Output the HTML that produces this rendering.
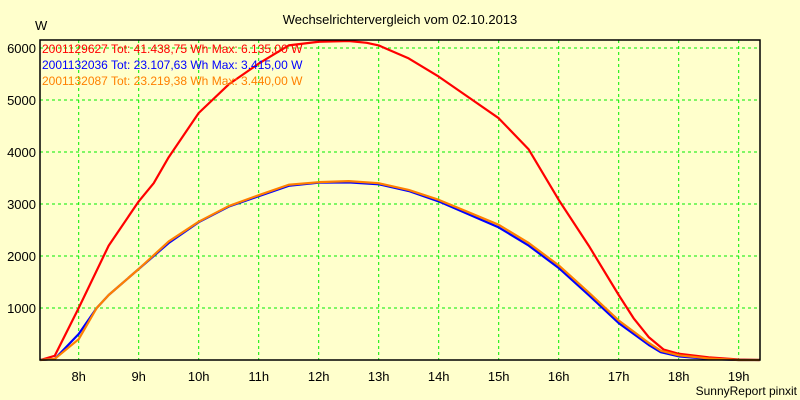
<!DOCTYPE html>
<html><head><meta charset="utf-8"><style>
body{margin:0;background:#ffffcc;}
svg{display:block;font-family:"Liberation Sans",sans-serif;}
</style></head><body>
<svg width="800" height="400">
<rect x="0" y="0" width="800" height="400" fill="#ffffcc"/>
<text x="400" y="24" font-size="13" text-anchor="middle">Wechselrichtervergleich vom 02.10.2013</text>
<text x="35" y="30" font-size="13">W</text>
<text x="797" y="395" font-size="12" text-anchor="end">SunnyReport pinxit</text>
<g id="grid"></g>
<g id="series"></g>
<g id="axes"></g>
<g id="legend" font-size="12">
<text x="42" y="53" fill="#ff0000">2001129627 Tot: 41.438,75 Wh Max: 6.135,00 W</text>
<text x="42" y="69" fill="#0000ff">2001132036 Tot: 23.107,63 Wh Max: 3.415,00 W</text>
<text x="42" y="85" fill="#ff8000">2001132087 Tot: 23.219,38 Wh Max: 3.440,00 W</text>
</g>
</svg>
<script>
const xTicks=[8,9,10,11,12,13,14,15,16,17,18,19];
const yTicks=[1000,2000,3000,4000,5000,6000];
const redT=[7.36,7.6,8.0,8.5,9.0,9.25,9.5,10,10.5,11,11.5,12,12.5,12.8,13,13.5,14,14.5,15,15.5,16,16.5,17,17.25,17.5,17.75,18,18.5,19,19.35];
const redV=[0,80,1000,2200,3050,3400,3900,4750,5300,5700,6050,6120,6135,6100,6050,5800,5450,5050,4650,4050,3080,2200,1250,800,440,200,120,50,10,0];
const blueT=[7.36,7.6,8.0,8.3,8.5,9.0,9.5,10,10.5,11,11.5,12,12.5,13,13.5,14,14.5,15,15.5,16,16.5,17,17.5,17.7,18,18.5,19,19.35];
const blueV=[0,20,500,1000,1250,1750,2250,2650,2950,3150,3350,3410,3415,3380,3250,3050,2800,2550,2200,1770,1250,710,290,150,70,20,0,0];
const orangeT=[7.36,7.6,8.0,8.3,8.5,9.0,9.5,10,10.5,11,11.5,12,12.5,13,13.5,14,14.5,15,15.5,16,16.5,17,17.5,17.7,18,18.5,19,19.35];
const orangeV=[0,20,400,1000,1250,1750,2280,2660,2960,3170,3370,3420,3440,3400,3270,3080,2840,2600,2250,1820,1300,760,330,180,90,30,0,0];
const X0=40,X1=760,Y0=360,Y1=40;
const xs=h=>78.7+(h-8)*60;
const ys=v=>360-v*0.052;
const NS='http://www.w3.org/2000/svg';
const mk=(t,a,p)=>{const e=document.createElementNS(NS,t);for(const k in a)e.setAttribute(k,a[k]);p.appendChild(e);return e;};
const grid=document.getElementById('grid'),axes=document.getElementById('axes'),ser=document.getElementById('series');
xTicks.forEach(h=>{
 const l=mk('line',{x1:xs(h),x2:xs(h),y1:Y1,y2:Y0,stroke:'#00ee00','stroke-dasharray':'3,3'},grid);
 
 
 const t=mk('text',{x:xs(h),y:381,'font-size':13,'text-anchor':'middle'},axes);
 t.textContent=h+'h';
 
 
});
yTicks.forEach(v=>{
 const l=mk('line',{x1:X0,x2:X1,y1:ys(v),y2:ys(v),stroke:'#00ee00','stroke-dasharray':'3,3'},grid);
 
 
 const t=mk('text',{x:36,y:ys(v)+5,'font-size':13,'text-anchor':'end'},axes);
 t.textContent=v;
 
 
});
const fr=mk('rect',{x:X0,y:Y1,width:X1-X0,height:Y0-Y1,fill:'none',stroke:'#000','stroke-width':1.5},axes);


[[redT,redV,'#ff0000','series-red'],[blueT,blueV,'#0000ff','series-blue'],[orangeT,orangeV,'#ff8000','series-orange']].forEach(([T,V,c,n])=>{
 const p=mk('polyline',{points:T.map((t,i)=>xs(t)+','+ys(V[i])).join(' '),fill:'none',stroke:c,'stroke-width':2.2,'stroke-linejoin':'round'},ser);
 
 
});
</script>
</body></html>
